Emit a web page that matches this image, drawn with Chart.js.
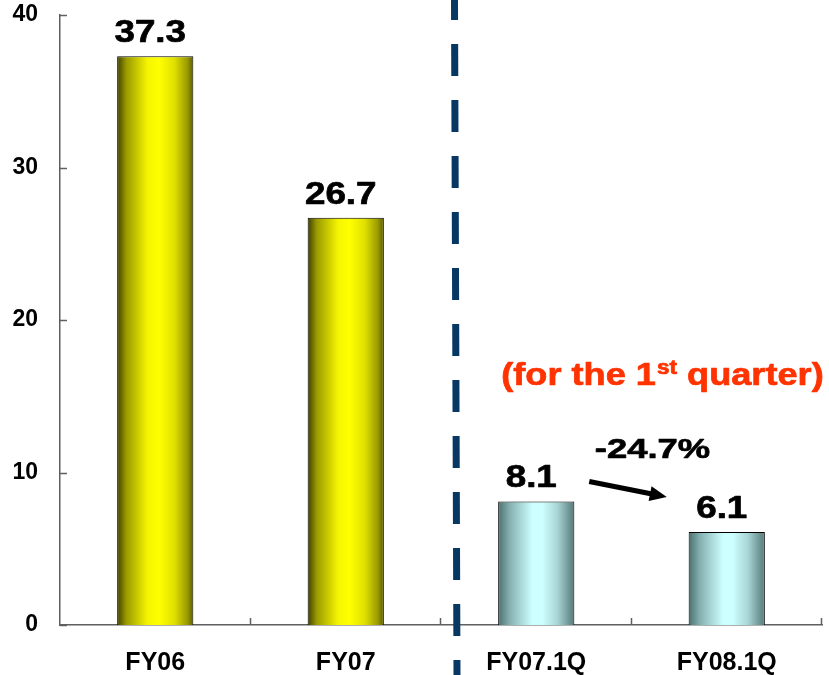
<!DOCTYPE html>
<html>
<head>
<meta charset="utf-8">
<script src="https://cdn.jsdelivr.net/npm/chart.js@4/dist/chart.umd.min.js"></script>
<style>
  html, body { margin: 0; padding: 0; background: #ffffff; }
  #wrap { width: 829px; height: 675px; position: relative; }
</style>
</head>
<body>
<div id="wrap"><canvas id="chart"></canvas></div>
<script>
// Fiscal-year totals and first-quarter figures
const categories = ['FY06', 'FY07', 'FY07.1Q', 'FY08.1Q'];
const values = [37.3, 26.7, 8.1, 6.1];
const barTones = ['annual', 'annual', 'quarter', 'quarter'];
const yTicks = [0, 10, 20, 30, 40];
const changeLabel = '-24.7%';

const FONT = '"Liberation Sans", Arial, sans-serif';
const AXIS_COLOR = '#5f5f5f';
const BAR_PCT = 0.4;

// Horizontal shading for each bar: dark edges, bright centre
const toneStops = {
  annual: [[0, '#3f3f00'], [0.12, '#9a9a00'], [0.4, '#f5f500'], [0.55, '#ffff00'], [0.75, '#e0e000'], [0.92, '#9a9a00'], [1, '#5c5c00']],
  quarter: [[0, '#4b6f6f'], [0.15, '#86b0b0'], [0.45, '#ccffff'], [0.58, '#ccffff'], [0.78, '#a8d4d4'], [0.93, '#6f9595'], [1, '#587a7a']]
};

function barFill(context) {
  const chart = context.chart;
  const a = chart.chartArea;
  const xs = chart.scales.x;
  const tone = barTones[context.dataIndex];
  if (!a || !xs || context.dataIndex === undefined) return tone === 'annual' ? '#ffff00' : '#ccffff';
  const cx = xs.getPixelForValue(context.dataIndex);
  const half = (a.right - a.left) / categories.length * BAR_PCT / 2;
  const g = chart.ctx.createLinearGradient(cx - half, 0, cx + half, 0);
  toneStops[tone].forEach(([o, c]) => g.addColorStop(o, c));
  return g;
}

// Text drawn slightly widened and with a thin outline for a heavier weight
function drawStretched(ctx, text, x, y, align, sx) {
  ctx.save();
  ctx.translate(x, y);
  ctx.scale(sx, 1);
  ctx.textAlign = align;
  ctx.lineJoin = 'round';
  ctx.lineWidth = 0.7;
  ctx.strokeStyle = ctx.fillStyle;
  ctx.fillText(text, 0, 0);
  ctx.strokeText(text, 0, 0);
  ctx.restore();
}

// Inside tick marks on both axes
const innerTicks = {
  id: 'innerTicks',
  afterDraw(chart) {
    const { ctx, chartArea: a, scales: { y } } = chart;
    ctx.save();
    ctx.strokeStyle = AXIS_COLOR;
    ctx.lineWidth = 1.5;
    ctx.beginPath();
    yTicks.forEach(v => {
      const py = Math.round(y.getPixelForValue(v)) + 0.5;
      ctx.moveTo(a.left, py);
      ctx.lineTo(a.left + 7, py);
    });
    const step = (a.right - a.left) / categories.length;
    for (let i = 1; i <= categories.length; i++) {
      const px = Math.round(a.left + step * i) - 0.5;
      ctx.moveTo(px, a.bottom);
      ctx.lineTo(px, a.bottom - 7);
    }
    ctx.stroke();
    ctx.restore();
  }
};

const annotations = {
  id: 'annotations',
  afterDatasetsDraw(chart) {
    const { ctx, chartArea: a, scales: { x, y } } = chart;
    const meta = chart.getDatasetMeta(0);
    ctx.save();

    // value labels above bars
    ctx.fillStyle = '#000000';
    ctx.font = 'bold 32px ' + FONT;
    ctx.textBaseline = 'alphabetic';
    meta.data.forEach((bar, i) => {
      const p = bar.getProps(['x', 'y'], true);
      drawStretched(ctx, values[i].toFixed(1), p.x - 5, p.y - 14, 'center', 1.15);
    });

    // dashed divider between annual and quarterly figures
    const step = (a.right - a.left) / categories.length;
    const divX = a.left + step * 2;
    ctx.strokeStyle = '#073763';
    ctx.lineWidth = 7;
    ctx.setLineDash([32, 24]);
    ctx.lineDashOffset = 12;
    ctx.beginPath();
    ctx.moveTo(divX + 13.5, 0);
    ctx.lineTo(divX + 16, chart.height);
    ctx.stroke();
    ctx.setLineDash([]);

    // quarter caption with superscript
    ctx.fillStyle = '#ff3300';
    const capX = x.getPixelForValue(2) - 35;
    const capY = a.bottom - 240;
    const sx = 1.13;
    ctx.font = 'bold 32px ' + FONT;
    const partA = '(for the 1';
    const partC = ' quarter)';
    const wA = ctx.measureText(partA).width * sx;
    drawStretched(ctx, partA, capX, capY, 'left', sx);
    ctx.font = 'bold 20px ' + FONT;
    const wB = ctx.measureText('st').width * sx;
    drawStretched(ctx, 'st', capX + wA + 1, capY - 11, 'left', sx);
    ctx.font = 'bold 32px ' + FONT;
    drawStretched(ctx, partC, capX + wA + wB + 1, capY, 'left', sx);

    // change between the two quarters
    ctx.fillStyle = '#000000';
    ctx.font = 'bold 28px ' + FONT;
    const x2 = x.getPixelForValue(2), x3 = x.getPixelForValue(3);
    drawStretched(ctx, changeLabel, (x2 + x3) / 2 + 21, y.getPixelForValue(values[2]) - 43, 'center', 1.3);

    // arrow
    const sx0 = x2 + 53, sy0 = y.getPixelForValue(values[2]) - 20;
    const tx = x3 - 60, ty = y.getPixelForValue(values[3]) - 35;
    const ang = Math.atan2(ty - sy0, tx - sx0);
    const headLen = 17, headHalf = 7.5;
    const bx = tx - headLen * Math.cos(ang), by = ty - headLen * Math.sin(ang);
    ctx.strokeStyle = '#000000';
    ctx.lineWidth = 5;
    ctx.beginPath();
    ctx.moveTo(sx0, sy0);
    ctx.lineTo(bx + 2 * Math.cos(ang), by + 2 * Math.sin(ang));
    ctx.stroke();
    ctx.beginPath();
    ctx.moveTo(tx, ty);
    ctx.lineTo(bx + headHalf * Math.sin(ang), by - headHalf * Math.cos(ang));
    ctx.lineTo(bx - headHalf * Math.sin(ang), by + headHalf * Math.cos(ang));
    ctx.closePath();
    ctx.fill();

    ctx.restore();
  }
};

new Chart(document.getElementById('chart'), {
  type: 'bar',
  data: {
    labels: categories,
    datasets: [{
      data: values,
      backgroundColor: barFill,
      borderColor: '#000000',
      borderWidth: 1,
      categoryPercentage: 1,
      barPercentage: BAR_PCT
    }]
  },
  options: {
    responsive: true,
    maintainAspectRatio: false,
    animation: false,
    events: [],
    layout: { padding: { top: 15, right: 7, left: 0, bottom: 0 } },
    plugins: { legend: { display: false }, tooltip: { enabled: false } },
    scales: {
      x: {
        grid: { display: false, drawTicks: false },
        border: { display: true, color: AXIS_COLOR, width: 1.5 },
        ticks: { color: '#000000', font: { family: FONT, size: 25, weight: 'bold' }, padding: 23, maxRotation: 0 },
        afterFit: s => { s.height = 50; s.paddingLeft = 0; s.paddingRight = 0; }
      },
      y: {
        min: 0,
        max: 40,
        afterBuildTicks: s => { s.ticks = yTicks.map(v => ({ value: v })); },
        grid: { display: false, drawTicks: false },
        border: { display: true, color: AXIS_COLOR, width: 1.5 },
        ticks: { color: '#000000', font: { family: FONT, size: 23, weight: 'bold' }, padding: 22 },
        afterFit: s => { s.width = 60; s.paddingTop = 0; s.paddingBottom = 0; }
      }
    }
  },
  plugins: [innerTicks, annotations]
});
</script>
</body>
</html>
